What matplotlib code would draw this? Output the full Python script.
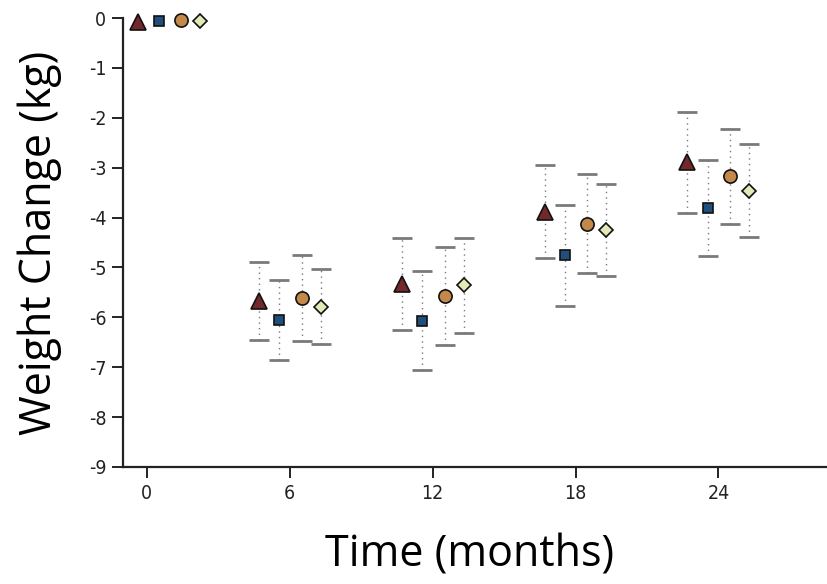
import matplotlib; matplotlib.use("Agg")
import matplotlib.pyplot as plt

# time points (months) and per-group means / half-widths of error bars (kg)
months = [0, 6, 12, 18, 24]
tri_mean = [-0.08, -5.67, -5.33, -3.88, -2.89]
tri_err = [0, 0.78, 0.92, 0.93, 1.01]
sq_mean = [-0.06, -6.05, -6.07, -4.76, -3.81]
sq_err = [0, 0.80, 0.99, 1.01, 0.96]
circ_mean = [-0.05, -5.61, -5.57, -4.12, -3.17]
circ_err = [0, 0.86, 0.98, 0.99, 0.95]
dia_mean = [-0.07, -5.79, -5.36, -4.25, -3.46]
dia_err = [0, 0.75, 0.95, 0.92, 0.93]
xticks = [0, 6, 12, 18, 24]
yticks = list(range(-9, 1))

groups = [
    (tri_mean, tri_err, "^", "#73282b", 11, -1.3),
    (sq_mean, sq_err, "s", "#1f4f7a", 7.5, -0.45),
    (circ_mean, circ_err, "o", "#c4894a", 9.5, 0.5),
    (dia_mean, dia_err, "D", "#e2e9b6", 7.5, 1.3),
]
first_shift = 0.95  # baseline cluster is drawn right of the axis

fig = plt.figure(figsize=(8.28, 5.84), dpi=100)
ax = fig.add_axes([123/828, 1 - 467/584, 1 - 123/828, (467 - 18)/584])

for mean, err, mk, col, ms, off in groups:
    xs = [m + off + (first_shift if m == 0 else 0) for m in months]
    keep = [i for i, e in enumerate(err) if e > 0]
    eb = ax.errorbar([xs[i] for i in keep], [mean[i] for i in keep],
                     yerr=[err[i] for i in keep], fmt="none", ecolor="#7a7a7a",
                     elinewidth=1.0, capsize=7, capthick=2.0, zorder=2)
    eb[2][0].set_linestyle((0, (1, 3)))
    ax.plot(xs, mean, mk, color=col, ms=ms, mec="#111111", mew=1.2,
            ls="none", zorder=3, clip_on=False)

ax.set_xlim(-1, 28.6)
ax.set_ylim(-9, 0)
ax.set_xticks(xticks)
ax.set_yticks(yticks)
ax.set_yticklabels([str(t) for t in yticks])
for s in ("top", "right"):
    ax.spines[s].set_visible(False)
for s in ("left", "bottom"):
    ax.spines[s].set_linewidth(1.6)
    ax.spines[s].set_color("#222222")
ax.tick_params(direction="out", length=8, width=1.4, color="#222222",
               labelsize=14, pad=4)
for lab in ax.get_xticklabels() + ax.get_yticklabels():
    lab.set_family(["DejaVu Sans"])
    lab.set_fontstretch("condensed")
    lab.set_color("#222222")

fig.text(470/828, 1 - 555/584, "Time (months)", ha="center", va="center",
         fontsize=31, family=["Open Sans", "DejaVu Sans"])
fig.text(40/828, 1 - 243/584, "Weight Change (kg)", ha="center", va="center",
         rotation=90, fontsize=31, family=["Open Sans", "DejaVu Sans"])

fig.savefig("out.png", dpi=100)
